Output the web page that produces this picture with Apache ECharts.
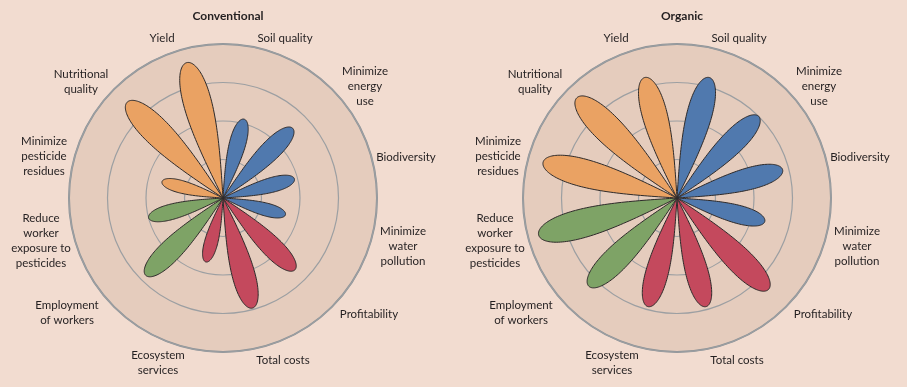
<!DOCTYPE html>
<html><head><meta charset="utf-8">
<script src="https://cdn.jsdelivr.net/npm/echarts@6/dist/echarts.min.js"></script>
<style>html,body{margin:0;padding:0;background:#f2dcd0}#c{width:907px;height:387px}</style>
</head><body><div id="c"></div>
<script>
// ---- data ----
const categories = ['Soil quality','Minimize\nenergy\nuse','Biodiversity','Minimize\nwater\npollution','Profitability','Total costs','Ecosystem\nservices','Employment\nof workers','Reduce\nworker\nexposure to\npesticides','Minimize\npesticide\nresidues','Nutritional\nquality','Yield'];
const groups = ['env','env','env','env','econ','econ','econ','social','social','prod','prod','prod'];
const conventional = [53,64,48,42,66,74,43,71,50,41,88,91];
const organic = [81,75,71,59,84,73,73,81,93,90,92,81];
const panelTitles = ['Conventional','Organic'];
const ringMax = 100, ringStep = 25;

// ---- styles / layout ----
const groupColors = {env:'#5079ae', econ:'#c4495d', social:'#7ea366', prod:'#eaa263'};
const centers = [[223,198],[677,198]];
const R = 154;
const labelOffsets = [[62,-160],[142,-112],[183,-41],[180,48],[146,116],[60,162],[-65,165],[-156,115],[-182,43],[-179,-42],[-142,-116],[-61,-160]];
const FONT = 'Lato, "Noto Sans", sans-serif';

function petalItem(params, api){
  const i = api.value(1), v = api.value(0);
  const c = api.coord([0, i]);
  const t = api.coord([v, i]);
  const dx = t[0]-c[0], dy = t[1]-c[1];
  const L = Math.hypot(dx, dy) || 1;
  const ux = dx/L, uy = dy/L, nx = -uy, ny = ux;
  const N = 60, a = [], b = [];
  for (let k=0;k<=N;k++){
    const ph = (k/N)*Math.PI/2;
    const s = Math.sin(ph), h = 0.2*L*Math.sin(ph)*Math.cos(ph);
    const px = c[0]+ux*s*L, py = c[1]+uy*s*L;
    a.push([px+nx*h, py+ny*h]); b.push([px-nx*h, py-ny*h]);
  }
  return {type:'polygon', shape:{points:a.concat(b.reverse())},
    style:{fill:groupColors[groups[i]], stroke:'#2e2a2a', lineWidth:1}};
}
function labelItem(params, api){
  const i = api.value(1);
  const c = api.coord([0, i]);
  const o = labelOffsets[i];
  return {type:'text', style:{text:categories[i], x:c[0]+o[0], y:c[1]+o[1],
    textAlign:'center', textVerticalAlign:'middle', fill:'#231f20',
    font:'11.5px '+FONT, lineHeight:15}};
}

const chart = echarts.init(document.getElementById('c'));
const polar = [], angleAxis = [], radiusAxis = [], series = [], title = [];
[conventional, organic].forEach((vals, p)=>{
  polar.push({center:[centers[p][0], centers[p][1]], radius:R});
  angleAxis.push({polarIndex:p, type:'category', data:categories, startAngle:90, clockwise:true,
    boundaryGap:true, z:1, axisLine:{show:true, lineStyle:{color:'#8e9397', width:2}},
    axisTick:{show:false}, axisLabel:{show:false}, splitLine:{show:false},
    splitArea:{show:true, areaStyle:{color:['#e5ccbd']}}});
  radiusAxis.push({polarIndex:p, min:0, max:ringMax, interval:ringStep, z:2,
    axisLine:{show:false}, axisTick:{show:false}, axisLabel:{show:false},
    splitLine:{show:true, lineStyle:{color:'#9c9fa2', width:1.2}},
    splitArea:{show:false}});
  series.push({type:'custom', coordinateSystem:'polar', polarIndex:p, renderItem:petalItem,
    encode:{radius:0, angle:1}, data:vals.map((v,i)=>[v,i]), z:3});
  series.push({type:'custom', coordinateSystem:'polar', polarIndex:p, renderItem:labelItem,
    encode:{radius:0, angle:1}, data:categories.map((c,i)=>[0,i]), z:4, silent:true});
  title.push({text:panelTitles[p], left:centers[p][0], top:5, textAlign:'center',
    textStyle:{fontFamily:FONT, fontSize:12, fontWeight:'bold', color:'#231f20'}});
});
chart.setOption({backgroundColor:'#f2dcd0', animation:false, title, polar, angleAxis, radiusAxis, series});
</script></body></html>
